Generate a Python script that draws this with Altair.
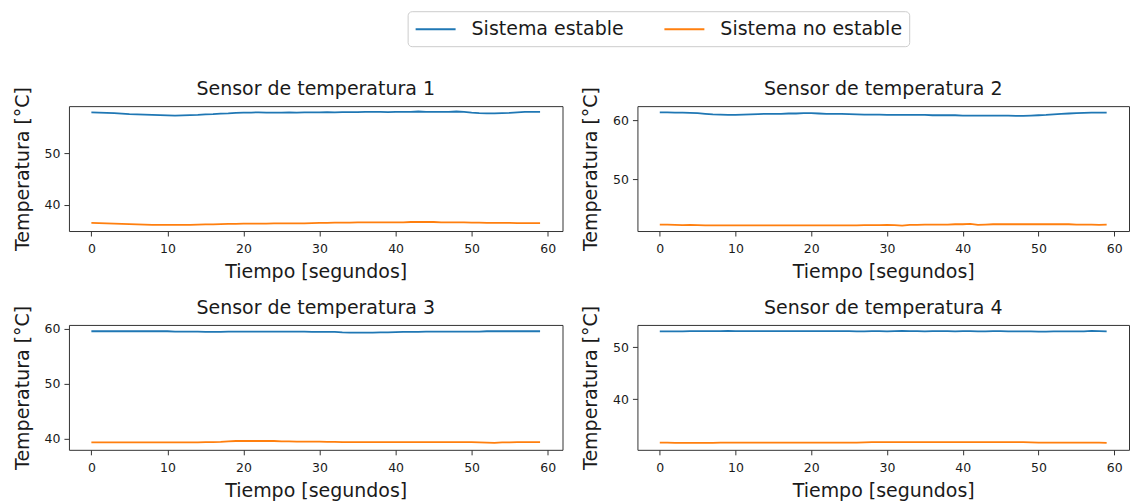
import altair as alt
import pandas as pd

tiempo = list(range(60))
series = ["Sistema estable", "Sistema no estable"]
colores = ["#1f77b4", "#ff7f0e"]

s1_estable = [58.0, 57.95, 57.9, 57.85, 57.75, 57.65, 57.6, 57.55, 57.5, 57.45,
              57.4, 57.35, 57.4, 57.45, 57.5, 57.6, 57.65, 57.75, 57.8, 57.9,
              57.95, 57.95, 58.0, 57.95, 57.95, 57.95, 58.0, 57.95, 58.0, 58.0,
              58.0, 58.05, 58.0, 58.05, 58.05, 58.05, 58.1, 58.1, 58.1, 58.05,
              58.1, 58.1, 58.1, 58.15, 58.1, 58.1, 58.1, 58.1, 58.15, 58.1,
              57.95, 57.85, 57.8, 57.8, 57.85, 57.9, 58.0, 58.1, 58.1, 58.1]
s1_no_estable = [36.5, 36.45, 36.4, 36.35, 36.3, 36.25, 36.2, 36.15, 36.1, 36.1,
                 36.1, 36.1, 36.1, 36.1, 36.15, 36.2, 36.2, 36.25, 36.3, 36.3,
                 36.35, 36.35, 36.35, 36.35, 36.4, 36.4, 36.4, 36.4, 36.4, 36.45,
                 36.5, 36.5, 36.55, 36.55, 36.55, 36.6, 36.6, 36.6, 36.6, 36.6,
                 36.6, 36.6, 36.65, 36.65, 36.65, 36.65, 36.6, 36.6, 36.6, 36.6,
                 36.55, 36.55, 36.5, 36.5, 36.5, 36.5, 36.45, 36.45, 36.45, 36.45]

s2_estable = [61.35, 61.35, 61.3, 61.3, 61.25, 61.2, 61.1, 61.0, 60.95, 60.9,
              60.9, 60.95, 61.0, 61.05, 61.1, 61.1, 61.1, 61.15, 61.15, 61.2,
              61.2, 61.15, 61.1, 61.1, 61.1, 61.05, 61.0, 60.95, 60.95, 60.95,
              60.9, 60.9, 60.9, 60.9, 60.9, 60.9, 60.85, 60.85, 60.85, 60.85,
              60.8, 60.8, 60.8, 60.8, 60.8, 60.8, 60.8, 60.75, 60.75, 60.8,
              60.85, 60.9, 61.0, 61.1, 61.15, 61.2, 61.25, 61.3, 61.3, 61.3]
s2_no_estable = [42.3, 42.3, 42.25, 42.2, 42.25, 42.2, 42.15, 42.15, 42.15, 42.15,
                 42.15, 42.15, 42.15, 42.15, 42.15, 42.15, 42.15, 42.15, 42.15, 42.15,
                 42.15, 42.15, 42.15, 42.15, 42.15, 42.15, 42.15, 42.2, 42.2, 42.2,
                 42.25, 42.2, 42.12, 42.25, 42.25, 42.3, 42.3, 42.3, 42.3, 42.35,
                 42.35, 42.4, 42.25, 42.3, 42.35, 42.35, 42.35, 42.35, 42.35, 42.35,
                 42.35, 42.35, 42.35, 42.35, 42.35, 42.3, 42.3, 42.3, 42.25, 42.3]

s3_estable = [59.55, 59.55, 59.55, 59.55, 59.55, 59.55, 59.55, 59.55, 59.55, 59.55,
              59.55, 59.5, 59.5, 59.5, 59.5, 59.45, 59.45, 59.45, 59.5, 59.5,
              59.5, 59.5, 59.5, 59.5, 59.5, 59.5, 59.5, 59.5, 59.5, 59.45,
              59.45, 59.45, 59.45, 59.35, 59.3, 59.3, 59.3, 59.3, 59.35, 59.35,
              59.4, 59.45, 59.45, 59.45, 59.5, 59.5, 59.5, 59.5, 59.5, 59.5,
              59.5, 59.5, 59.55, 59.55, 59.55, 59.55, 59.55, 59.55, 59.55, 59.55]
s3_no_estable = [39.35, 39.35, 39.35, 39.35, 39.35, 39.35, 39.35, 39.35, 39.35, 39.35,
                 39.35, 39.35, 39.35, 39.35, 39.35, 39.4, 39.4, 39.45, 39.55, 39.6,
                 39.6, 39.6, 39.6, 39.6, 39.6, 39.55, 39.55, 39.5, 39.5, 39.5,
                 39.5, 39.45, 39.45, 39.4, 39.4, 39.4, 39.4, 39.4, 39.4, 39.4,
                 39.4, 39.4, 39.4, 39.4, 39.4, 39.4, 39.4, 39.4, 39.4, 39.4,
                 39.4, 39.35, 39.3, 39.25, 39.35, 39.35, 39.4, 39.4, 39.4, 39.4]

s4_estable = [53.05, 53.05, 53.05, 53.05, 53.1, 53.1, 53.1, 53.1, 53.1, 53.15,
              53.1, 53.1, 53.1, 53.1, 53.1, 53.1, 53.1, 53.1, 53.1, 53.1,
              53.1, 53.1, 53.1, 53.1, 53.1, 53.1, 53.05, 53.05, 53.1, 53.1,
              53.05, 53.1, 53.15, 53.1, 53.1, 53.05, 53.1, 53.1, 53.1, 53.05,
              53.1, 53.1, 53.05, 53.05, 53.1, 53.1, 53.05, 53.05, 53.05, 53.05,
              53.0, 53.0, 53.05, 53.05, 53.05, 53.05, 53.05, 53.15, 53.1, 53.05]
s4_no_estable = [31.6, 31.6, 31.55, 31.55, 31.55, 31.55, 31.55, 31.55, 31.6, 31.6,
                 31.6, 31.6, 31.6, 31.6, 31.6, 31.6, 31.6, 31.6, 31.6, 31.6,
                 31.6, 31.6, 31.6, 31.6, 31.6, 31.6, 31.6, 31.65, 31.7, 31.7,
                 31.7, 31.7, 31.7, 31.7, 31.7, 31.7, 31.7, 31.7, 31.7, 31.7,
                 31.7, 31.7, 31.7, 31.7, 31.7, 31.7, 31.7, 31.7, 31.7, 31.65,
                 31.6, 31.6, 31.6, 31.6, 31.6, 31.6, 31.6, 31.6, 31.6, 31.55]

x_ticks = [0, 10, 20, 30, 40, 50, 60]
x_domain = [-2.95, 61.95]

FONT = "DejaVu Sans"
TXT = "#1a1a1a"

legend = alt.Legend(
    title=None, orient="none", direction="horizontal",
    legendX=339, legendY=-95,
    symbolType="M-2,0L2,0", symbolSize=400, symbolStrokeWidth=2,
    symbolOffset=10,
    labelFontSize=19, labelFont=FONT, labelColor=TXT, labelOffset=25,
    labelLimit=400,
    columnPadding=36, padding=7, strokeColor="#cccccc", fillColor="white",
    cornerRadius=4,
)


def panel(n, estable, no_estable, dom, yticks, w):
    df = pd.DataFrame({
        "t": tiempo + tiempo,
        "temp": estable + no_estable,
        "serie": [series[0]] * len(tiempo) + [series[1]] * len(tiempo),
    })
    return alt.Chart(
        df,
        title=alt.TitleParams(f"Sensor de temperatura {n}", frame="group"),
    ).mark_line(strokeWidth=1.8).encode(
        x=alt.X("t:Q", title="Tiempo [segundos]",
                scale=alt.Scale(domain=x_domain, nice=False, zero=False),
                axis=alt.Axis(values=x_ticks)),
        y=alt.Y("temp:Q", title="Temperatura [°C]",
                scale=alt.Scale(domain=dom, nice=False, zero=False),
                axis=alt.Axis(values=yticks)),
        color=alt.Color("serie:N", scale=alt.Scale(domain=series, range=colores),
                        legend=legend),
    ).properties(width=w, height=125)


p1 = panel(1, s1_estable, s1_no_estable, [34.9, 59.2], [40, 50], 494)
p2 = panel(2, s2_estable, s2_no_estable, [41.2, 62.4], [50, 60], 492)
p3 = panel(3, s3_estable, s3_no_estable, [38.0, 60.7], [40, 50, 60], 494)
p4 = panel(4, s4_estable, s4_no_estable, [30.2, 54.3], [40, 50], 492)

chart = alt.concat(
    p1, p2, p3, p4, columns=2,
    spacing={"row": 94, "column": 75}, bounds="flush",
).properties(
    padding={"left": 12, "top": 10, "right": 0, "bottom": 0},
    background="white",
).configure_view(
    stroke="#333333", strokeWidth=1,
).configure_axis(
    domain=False, grid=False, tickColor="#333333", tickSize=5, tickWidth=1,
    labelFont=FONT, labelFontSize=12.5, labelColor=TXT, labelPadding=4,
    titleFont=FONT, titleFontSize=19, titleFontWeight="normal", titleColor=TXT,
).configure_axisX(
    labelPadding=7, titlePadding=7,
).configure_axisY(
    titlePadding=12,
).configure_title(
    font=FONT, fontSize=19, fontWeight="normal", color=TXT,
    anchor="middle", baseline="alphabetic", offset=-13,
)

chart.save("out.html", embed_options={"renderer": "svg", "actions": False})
